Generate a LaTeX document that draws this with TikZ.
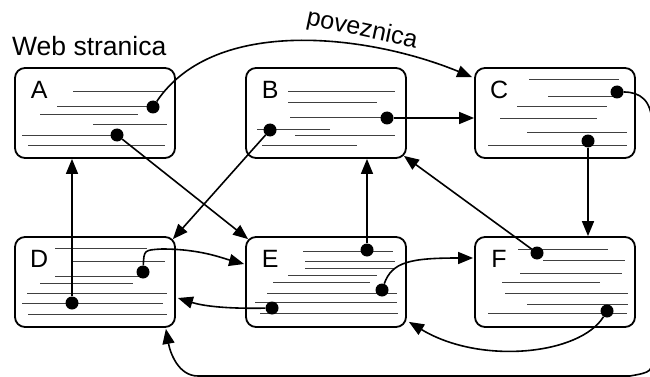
\documentclass[tikz,border=0pt]{standalone}
\usepackage{fontspec}
\setmainfont{Liberation Sans}
\usetikzlibrary{arrows.meta}

\begin{document}
\begin{tikzpicture}[x=1pt,y=-1pt,
	page/.style={draw, line width=1.8pt, rounded corners=10pt, minimum width=160pt, minimum height=90pt, inner sep=0pt},
	letter/.style={font=\fontsize{25}{30}\selectfont, inner sep=0pt},
	row/.style={line width=1pt, black!75},
	dot/.style={circle, fill, inner sep=0pt, minimum size=13pt},
	link/.style={line width=1.6pt, -{Triangle[length=15pt,width=12pt]}}]
			\useasboundingbox (0,0) rectangle (650,377);
			% the six pages
			\node[page] (A) at (95,113) {};
			\node[page] (B) at (326,113) {};
			\node[page] (C) at (555,113) {};
			\node[page] (D) at (95,282) {};
			\node[page] (E) at (326,282) {};
			\node[page] (F) at (555,282) {};
			\foreach \p in {A,B,C,D,E,F}
				\node[letter] (\p-tag) at ([shift={(25,23)}]\p.north west) {\p};
			\node[letter, font=\fontsize{26.5}{30}\selectfont, anchor=base west] (title) at (12,56) {Web stranica};
			\node[letter, rotate=-12] (linkname) at (362,30) {poveznica};
			% lines of text
			\foreach \xa/\xb/\y in {73/165/92, 57/153/107, 40/138/115, 93/167/125, 22/115/135, 28/165/145,
				288/395/92, 288/377/103, 290/387/118, 257/330/130, 295/395/135, 262/357/145,
				529/619/80, 548/617/97, 517/607/107, 500/597/119, 527/627/132, 488/627/145,
				55/147/248, 72/165/261, 55/140/276, 40/133/283, 27/167/293, 22/163/303, 28/167/314,
				303/393/251, 305/395/261, 305/395/268, 288/377/275, 273/370/282, 267/397/293, 255/397/302, 260/398/313,
				518/608/249, 543/625/260, 520/622/273, 502/600/282, 505/628/293, 527/628/304, 488/627/313}
				\draw[row] (\xa,\y) -- (\xb,\y);
			% link anchors
			\node[dot] (a1) at (153,107) {};
			\node[dot] (a2) at (117,135) {};
			\node[dot] (b1) at (387,118) {};
			\node[dot] (b2) at (270,130) {};
			\node[dot] (c1) at (617,92) {};
			\node[dot] (c2) at (588,141) {};
			\node[dot] (d1) at (143,272) {};
			\node[dot] (d2) at (72,303) {};
			\node[dot] (e1) at (367,250) {};
			\node[dot] (e2) at (382,290) {};
			\node[dot] (e3) at (272,308) {};
			\node[dot] (f1) at (537,253) {};
			\node[dot] (f2) at (607,311) {};
			% links
			\draw[link] (a1) .. controls (215,15) and (370,35) .. ([shift={(-2,10)}]C.north west);
			\draw[link] (a2) -- ([shift={(3,3)}]E.north west);
			\draw[link] (b1) -- (b1 -| C.west);
			\draw[link] (b2) -- ([shift={(-3,3)}]D.north east);
			\draw[link] (c1) .. controls (640,92) and (652,100) .. (652,125) -- (652,355)
				.. controls (652,372) .. (630,376) -- (198,376)
				.. controls (178,376) and (170,352) .. ([shift={(-10,1)}]D.south east);
			\draw[link] (c2) -- (c2 |- F.north);
			\draw[link] (d1) .. controls (144,250) .. (162,249) .. controls (200,249) and (222,258) .. ([shift={(-1,-18)}]E.west);
			\draw[link] (d2) -- (d2 |- A.south);
			\draw[link] (e1) -- (e1 |- B.south);
			\draw[link] (e2) .. controls (392,262) and (410,258) .. ([shift={(-1,-24)}]F.west);
			\draw[link] (e3) .. controls (220,309) and (200,305) .. ([shift={(2,16)}]D.east);
			\draw[link] (f1) -- ([shift={(-3,-3)}]B.south east);
			\draw[link] (f2) .. controls (580,355) and (480,365) .. ([shift={(2,-6)}]E.south east);
		\end{tikzpicture}
\end{document}
